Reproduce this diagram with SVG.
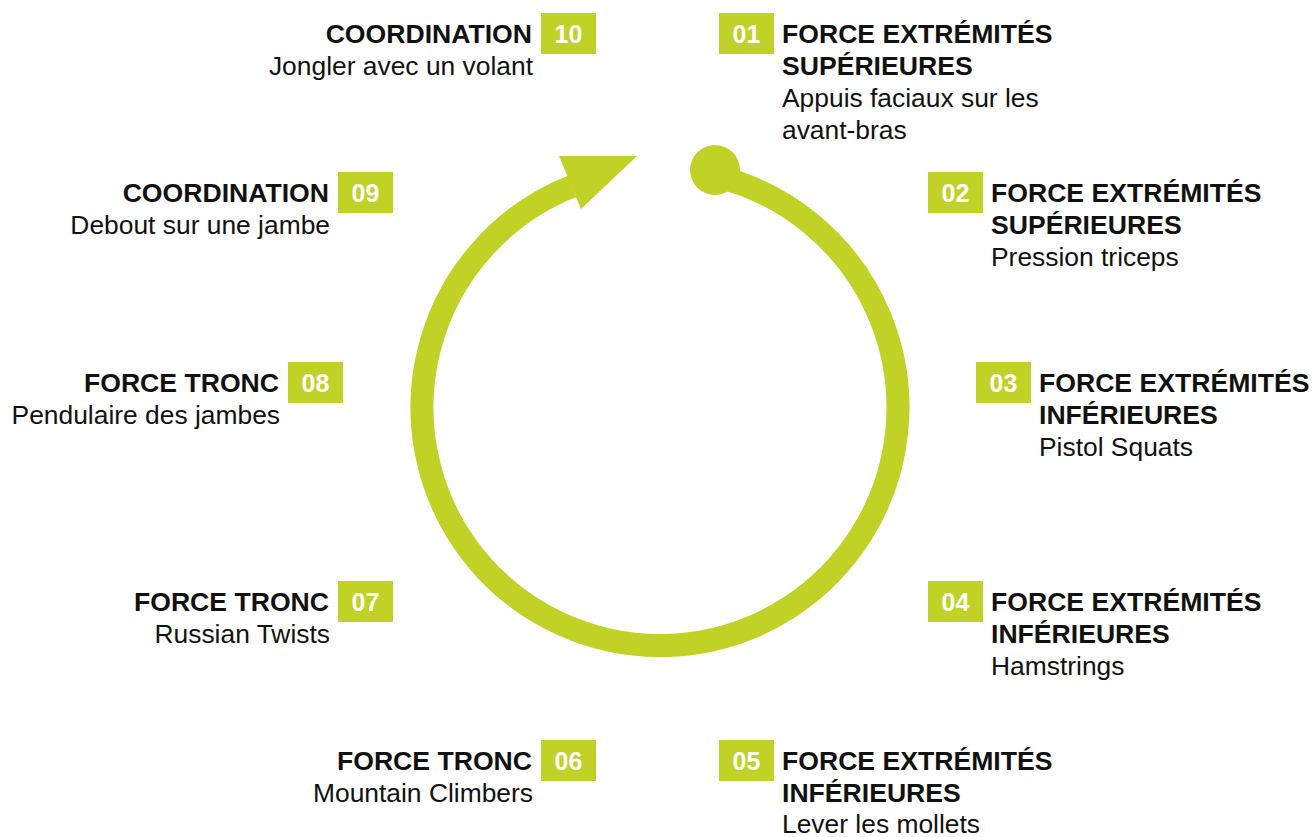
<svg xmlns="http://www.w3.org/2000/svg" width="1312" height="837" viewBox="0 0 1312 837">
<style>
.box{fill:#C0D226}
.num{font-family:"Liberation Sans",Arial,sans-serif;font-weight:bold;font-size:25px;fill:#fff;text-anchor:middle}
.t{font-family:"Liberation Sans",Arial,sans-serif;font-weight:bold;font-size:26.6px;fill:#111}
.s{font-family:"Liberation Sans",Arial,sans-serif;font-size:26.4px;fill:#111}
.r{text-anchor:end}
</style>
<rect width="1312" height="837" fill="#fff"/>
<g id="connectors">
<path d="M 715 176 A 238 238 0 1 1 572 186.4" fill="none" stroke="#C0D226" stroke-width="23"/>
<circle cx="715" cy="170" r="25" fill="#C0D226"/>
<polygon points="559,156 637,156 581,209" fill="#C0D226"/>
</g>
<g id="n01">
<rect class="box" x="719" y="13" width="55" height="41"/>
<text class="num" x="746.5" y="43">01</text>
<text class="t" x="782" y="43">FORCE EXTRÉMITÉS</text>
<text class="t" x="782" y="75">SUPÉRIEURES</text>
<text class="s" x="782" y="107">Appuis faciaux sur les</text>
<text class="s" x="782" y="139">avant-bras</text>
</g>
<g id="n02">
<rect class="box" x="928" y="172" width="55" height="41"/>
<text class="num" x="955.5" y="202">02</text>
<text class="t" x="991" y="202">FORCE EXTRÉMITÉS</text>
<text class="t" x="991" y="234">SUPÉRIEURES</text>
<text class="s" x="991" y="266">Pression triceps</text>
</g>
<g id="n03">
<rect class="box" x="976" y="362" width="55" height="41"/>
<text class="num" x="1003.5" y="392">03</text>
<text class="t" x="1039" y="392">FORCE EXTRÉMITÉS</text>
<text class="t" x="1039" y="424">INFÉRIEURES</text>
<text class="s" x="1039" y="456">Pistol Squats</text>
</g>
<g id="n04">
<rect class="box" x="928" y="581" width="55" height="41"/>
<text class="num" x="955.5" y="611">04</text>
<text class="t" x="991" y="611">FORCE EXTRÉMITÉS</text>
<text class="t" x="991" y="643">INFÉRIEURES</text>
<text class="s" x="991" y="675">Hamstrings</text>
</g>
<g id="n05">
<rect class="box" x="719" y="740" width="55" height="41"/>
<text class="num" x="746.5" y="770">05</text>
<text class="t" x="782" y="770">FORCE EXTRÉMITÉS</text>
<text class="t" x="782" y="802">INFÉRIEURES</text>
<text class="s" x="782" y="833">Lever les mollets</text>
</g>
<g id="n06">
<rect class="box" x="541" y="740" width="55" height="41"/>
<text class="num" x="568.5" y="770">06</text>
<text class="t r" x="532" y="770">FORCE TRONC</text>
<text class="s r" x="533" y="802">Mountain Climbers</text>
</g>
<g id="n07">
<rect class="box" x="338" y="581" width="55" height="41"/>
<text class="num" x="365.5" y="611">07</text>
<text class="t r" x="329" y="611">FORCE TRONC</text>
<text class="s r" x="330" y="643">Russian Twists</text>
</g>
<g id="n08">
<rect class="box" x="288" y="362" width="55" height="41"/>
<text class="num" x="315.5" y="392">08</text>
<text class="t r" x="279" y="392">FORCE TRONC</text>
<text class="s r" x="280" y="424">Pendulaire des jambes</text>
</g>
<g id="n09">
<rect class="box" x="338" y="172" width="55" height="41"/>
<text class="num" x="365.5" y="202">09</text>
<text class="t r" x="329" y="202">COORDINATION</text>
<text class="s r" x="330" y="234">Debout sur une jambe</text>
</g>
<g id="n10">
<rect class="box" x="541" y="13" width="55" height="41"/>
<text class="num" x="568.5" y="43">10</text>
<text class="t r" x="532" y="43">COORDINATION</text>
<text class="s r" x="533" y="75">Jongler avec un volant</text>
</g>
</svg>
